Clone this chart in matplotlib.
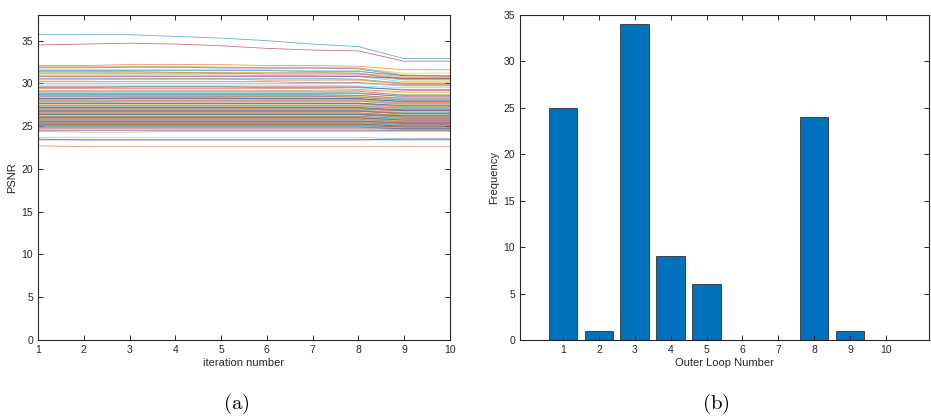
import matplotlib
matplotlib.use("Agg")
import matplotlib.pyplot as plt
import numpy as np

# PSNR per iteration, one row per test image (100 images)
iterations = [1, 2, 3, 4, 5, 6, 7, 8, 9, 10]
psnr = [
    [35.7, 35.7, 35.7, 35.5, 35.3, 35.0, 34.6, 34.3, 32.9, 32.9],
    [32.1, 32.1, 32.2, 32.2, 32.2, 32.1, 32.1, 32.0, 31.6, 31.6],
    [32.0, 32.0, 32.0, 32.0, 31.9, 31.9, 31.9, 31.8, 31.2, 31.2],
    [31.9, 31.9, 31.9, 31.9, 31.8, 31.8, 31.8, 31.7, 30.9, 30.9],
    [31.8, 31.8, 31.9, 31.9, 31.9, 31.8, 31.8, 31.8, 31.0, 30.9],
    [31.6, 31.6, 31.6, 31.6, 31.6, 31.6, 31.5, 31.5, 30.7, 30.7],
    [34.5, 34.6, 34.7, 34.6, 34.4, 34.1, 33.9, 33.8, 32.6, 32.6],
    [31.5, 31.5, 31.5, 31.5, 31.5, 31.5, 31.4, 31.4, 30.9, 30.8],
    [31.4, 31.4, 31.4, 31.3, 31.3, 31.3, 31.3, 31.2, 30.6, 30.6],
    [31.3, 31.3, 31.3, 31.3, 31.2, 31.2, 31.2, 31.2, 30.8, 30.8],
    [31.2, 31.2, 31.2, 31.2, 31.2, 31.1, 31.1, 31.1, 30.5, 30.5],
    [31.0, 31.0, 31.0, 31.0, 31.0, 30.9, 30.9, 30.9, 30.4, 30.4],
    [30.9, 30.9, 30.9, 30.9, 30.9, 30.9, 30.9, 30.8, 30.2, 30.2],
    [30.8, 30.8, 30.8, 30.8, 30.8, 30.8, 30.8, 30.8, 30.6, 30.6],
    [30.6, 30.6, 30.6, 30.6, 30.6, 30.6, 30.6, 30.5, 30.0, 30.0],
    [30.5, 30.5, 30.5, 30.5, 30.5, 30.4, 30.4, 30.4, 29.9, 29.9],
    [30.4, 30.4, 30.5, 30.5, 30.5, 30.4, 30.4, 30.4, 30.1, 30.1],
    [30.2, 30.2, 30.2, 30.2, 30.2, 30.2, 30.1, 30.1, 29.8, 29.8],
    [30.0, 30.0, 30.0, 30.0, 30.0, 30.0, 30.0, 30.0, 29.7, 29.7],
    [29.8, 29.8, 29.8, 29.8, 29.8, 29.8, 29.8, 29.7, 29.5, 29.5],
    [29.6, 29.6, 29.6, 29.6, 29.6, 29.6, 29.6, 29.6, 29.2, 29.2],
    [29.5, 29.5, 29.6, 29.6, 29.6, 29.5, 29.5, 29.5, 29.3, 29.3],
    [29.4, 29.4, 29.4, 29.4, 29.4, 29.4, 29.4, 29.3, 29.0, 29.0],
    [29.2, 29.2, 29.2, 29.2, 29.2, 29.2, 29.2, 29.2, 28.9, 28.9],
    [29.1, 29.1, 29.1, 29.1, 29.1, 29.1, 29.1, 29.1, 28.6, 28.6],
    [29.0, 29.0, 29.0, 29.0, 29.0, 29.0, 29.0, 28.9, 28.7, 28.7],
    [28.9, 28.9, 28.9, 28.9, 28.9, 28.9, 28.9, 28.9, 28.4, 28.4],
    [28.8, 28.8, 28.8, 28.8, 28.8, 28.8, 28.8, 28.8, 28.5, 28.5],
    [28.7, 28.7, 28.7, 28.7, 28.7, 28.7, 28.7, 28.6, 28.2, 28.2],
    [28.6, 28.6, 28.6, 28.6, 28.6, 28.6, 28.6, 28.6, 28.3, 28.3],
    [28.55, 28.55, 28.55, 28.55, 28.5, 28.5, 28.5, 28.5, 28.1, 28.1],
    [28.5, 28.5, 28.5, 28.5, 28.5, 28.5, 28.5, 28.4, 28.0, 28.0],
    [28.4, 28.4, 28.4, 28.4, 28.4, 28.4, 28.4, 28.4, 28.1, 28.1],
    [28.3, 28.3, 28.3, 28.3, 28.3, 28.3, 28.3, 28.2, 27.9, 27.9],
    [28.25, 28.25, 28.25, 28.25, 28.25, 28.25, 28.25, 28.25, 27.8, 27.8],
    [28.2, 28.2, 28.3, 28.3, 28.3, 28.2, 28.2, 28.2, 27.9, 27.9],
    [28.1, 28.1, 28.1, 28.1, 28.1, 28.1, 28.1, 28.1, 27.7, 27.7],
    [28.0, 28.0, 28.0, 28.0, 28.0, 28.0, 28.0, 28.0, 27.8, 27.8],
    [27.95, 27.95, 27.95, 27.95, 27.95, 27.95, 27.95, 27.95, 27.6, 27.6],
    [27.9, 27.9, 27.9, 27.9, 27.9, 27.9, 27.9, 27.9, 27.5, 27.5],
    [27.8, 27.8, 27.7, 27.7, 27.7, 27.7, 27.7, 27.7, 27.4, 27.4],
    [27.7, 27.7, 27.7, 27.7, 27.7, 27.7, 27.7, 27.7, 27.4, 27.4],
    [27.65, 27.65, 27.65, 27.65, 27.65, 27.65, 27.65, 27.65, 27.3, 27.3],
    [27.6, 27.6, 27.6, 27.6, 27.6, 27.6, 27.6, 27.6, 27.2, 27.2],
    [27.5, 27.5, 27.5, 27.5, 27.5, 27.5, 27.5, 27.5, 27.3, 27.3],
    [27.4, 27.4, 27.4, 27.4, 27.4, 27.4, 27.4, 27.4, 27.1, 27.1],
    [27.35, 27.35, 27.35, 27.35, 27.35, 27.35, 27.35, 27.35, 27.0, 27.0],
    [27.3, 27.3, 27.3, 27.3, 27.3, 27.3, 27.3, 27.3, 27.1, 27.1],
    [27.2, 27.2, 27.2, 27.2, 27.2, 27.2, 27.2, 27.2, 26.9, 26.9],
    [27.15, 27.15, 27.15, 27.15, 27.15, 27.15, 27.15, 27.15, 26.8, 26.8],
    [27.1, 27.1, 27.1, 27.1, 27.1, 27.1, 27.1, 27.1, 26.9, 26.9],
    [27.05, 27.05, 27.05, 27.05, 27.05, 27.05, 27.05, 27.05, 26.7, 26.7],
    [27.0, 27.0, 27.0, 27.0, 27.0, 27.0, 27.0, 27.0, 26.8, 26.8],
    [26.9, 26.9, 26.9, 26.9, 26.9, 26.9, 26.9, 26.9, 26.6, 26.6],
    [26.85, 26.85, 26.85, 26.85, 26.85, 26.85, 26.85, 26.85, 26.6, 26.6],
    [26.8, 26.8, 26.8, 26.8, 26.8, 26.8, 26.8, 26.8, 26.5, 26.5],
    [26.75, 26.75, 26.75, 26.75, 26.75, 26.75, 26.75, 26.75, 26.4, 26.4],
    [26.7, 26.7, 26.7, 26.7, 26.7, 26.7, 26.7, 26.7, 26.5, 26.5],
    [26.6, 26.6, 26.6, 26.6, 26.6, 26.6, 26.6, 26.6, 26.3, 26.3],
    [26.55, 26.55, 26.55, 26.55, 26.55, 26.55, 26.55, 26.55, 26.2, 26.2],
    [26.5, 26.5, 26.5, 26.5, 26.5, 26.5, 26.5, 26.5, 26.3, 26.3],
    [26.45, 26.45, 26.45, 26.45, 26.45, 26.45, 26.45, 26.45, 26.1, 26.1],
    [26.4, 26.4, 26.4, 26.4, 26.4, 26.4, 26.4, 26.4, 26.2, 26.2],
    [26.35, 26.35, 26.35, 26.35, 26.35, 26.35, 26.35, 26.35, 26.0, 26.0],
    [26.3, 26.3, 26.3, 26.3, 26.3, 26.3, 26.3, 26.3, 26.1, 26.1],
    [26.2, 26.2, 26.2, 26.2, 26.2, 26.2, 26.2, 26.2, 25.9, 25.9],
    [26.15, 26.15, 26.15, 26.15, 26.15, 26.15, 26.15, 26.15, 25.9, 25.9],
    [26.1, 26.1, 26.1, 26.1, 26.1, 26.1, 26.1, 26.1, 25.8, 25.8],
    [26.05, 26.05, 26.05, 26.05, 26.05, 26.05, 26.05, 26.05, 25.8, 25.8],
    [26.0, 26.0, 26.0, 26.0, 26.0, 26.0, 26.0, 26.0, 25.7, 25.7],
    [25.95, 25.95, 25.95, 25.95, 25.95, 25.95, 25.95, 25.95, 25.7, 25.7],
    [25.9, 25.9, 25.9, 25.9, 25.9, 25.9, 25.9, 25.9, 25.6, 25.6],
    [25.85, 25.85, 25.85, 25.85, 25.85, 25.85, 25.85, 25.85, 25.6, 25.6],
    [25.8, 25.8, 25.8, 25.8, 25.8, 25.8, 25.8, 25.8, 25.5, 25.5],
    [25.7, 25.7, 25.7, 25.7, 25.7, 25.7, 25.7, 25.7, 25.5, 25.5],
    [25.65, 25.65, 25.65, 25.65, 25.65, 25.65, 25.65, 25.65, 25.4, 25.4],
    [25.6, 25.6, 25.6, 25.6, 25.6, 25.6, 25.6, 25.6, 25.4, 25.4],
    [25.55, 25.55, 25.55, 25.55, 25.55, 25.55, 25.55, 25.55, 25.3, 25.3],
    [25.5, 25.5, 25.5, 25.5, 25.5, 25.5, 25.5, 25.5, 25.3, 25.3],
    [25.45, 25.45, 25.45, 25.45, 25.45, 25.45, 25.45, 25.45, 25.2, 25.2],
    [25.4, 25.4, 25.4, 25.4, 25.4, 25.4, 25.4, 25.4, 25.2, 25.2],
    [25.35, 25.35, 25.35, 25.35, 25.35, 25.35, 25.35, 25.35, 25.1, 25.1],
    [25.3, 25.3, 25.3, 25.3, 25.3, 25.3, 25.3, 25.3, 25.1, 25.1],
    [25.25, 25.25, 25.25, 25.25, 25.25, 25.25, 25.25, 25.25, 25.0, 25.0],
    [25.2, 25.2, 25.2, 25.2, 25.2, 25.2, 25.2, 25.2, 25.0, 25.0],
    [25.15, 25.15, 25.15, 25.15, 25.15, 25.15, 25.15, 25.15, 24.9, 24.9],
    [25.1, 25.1, 25.1, 25.1, 25.1, 25.1, 25.1, 25.1, 24.9, 24.9],
    [25.05, 25.05, 25.05, 25.05, 25.05, 25.05, 25.05, 25.05, 24.9, 24.9],
    [25.0, 25.0, 25.0, 25.0, 25.0, 25.0, 25.0, 25.0, 24.8, 24.8],
    [24.95, 24.95, 24.95, 24.95, 24.95, 24.95, 24.95, 24.95, 24.8, 24.8],
    [24.9, 24.9, 24.9, 24.9, 24.9, 24.9, 24.9, 24.9, 24.7, 24.7],
    [24.8, 24.8, 24.8, 24.8, 24.8, 24.8, 24.8, 24.8, 24.7, 24.7],
    [24.7, 24.7, 24.7, 24.7, 24.7, 24.7, 24.7, 24.7, 24.6, 24.6],
    [24.6, 24.6, 24.6, 24.6, 24.6, 24.6, 24.6, 24.6, 24.5, 24.5],
    [24.5, 24.5, 24.5, 24.5, 24.5, 24.5, 24.5, 24.5, 24.5, 24.5],
    [24.4, 24.3, 24.3, 24.4, 24.4, 24.4, 24.4, 24.4, 24.4, 24.4],
    [23.7, 23.7, 23.7, 23.7, 23.7, 23.7, 23.7, 23.7, 23.5, 23.5],
    [23.4, 23.4, 23.4, 23.4, 23.4, 23.4, 23.4, 23.4, 23.5, 23.5],
    [23.5, 23.4, 23.4, 23.4, 23.4, 23.4, 23.4, 23.4, 23.4, 23.4],
    [22.7, 22.6, 22.6, 22.6, 22.6, 22.6, 22.6, 22.6, 22.6, 22.6],
]

# histogram of the chosen outer loop number
loops = [1, 2, 3, 4, 5, 6, 7, 8, 9, 10]
freq = [25, 1, 34, 9, 6, 0, 0, 24, 1, 0]

matlab_colors = ["#0072BD", "#D95319", "#EDB120", "#7E2F8E",
                 "#77AC30", "#4DBEEE", "#A2142F"]
axcol = "#262626"

plt.rcParams['font.family'] = ['Liberation Sans', 'DejaVu Sans']
plt.rcParams['mathtext.fontset'] = 'cm'

fig = plt.figure(figsize=(9.31, 4.18), dpi=100)
ax1 = fig.add_axes([0.0408, 0.1866, 0.4425, 0.7775])
ax2 = fig.add_axes([0.5585, 0.1866, 0.4393, 0.7775])

for i, row in enumerate(psnr):
    ax1.plot(iterations, row, color=matlab_colors[i % 7], lw=0.6, alpha=0.6)

ax1.set_xlim(1, 10)
ax1.set_ylim(0, 38)
ax1.set_xticks(iterations)
ax1.set_yticks(np.arange(0, 36, 5))
ax1.set_xlabel("iteration number", fontsize=8, color=axcol, labelpad=2)
ax1.set_ylabel("PSNR", fontsize=8, color=axcol, labelpad=3)

ax2.bar(loops, freq, width=0.8, color="#0072BD", edgecolor="#333333", lw=0.6)
ax2.set_xlim(-0.2, 11.2)
ax2.set_ylim(0, 35)
ax2.set_xticks(loops)
ax2.set_yticks(np.arange(0, 36, 5))
ax2.set_xlabel("Outer Loop Number", fontsize=8, color=axcol, labelpad=2)
ax2.set_ylabel("Frequency", fontsize=8, color=axcol, labelpad=3)

for ax in (ax1, ax2):
    ax.tick_params(direction="in", length=3.5, width=0.7, labelsize=7.5,
                   colors=axcol, top=True, right=True, pad=3.5)
    for s in ax.spines.values():
        s.set_linewidth(0.8)
        s.set_color(axcol)

fig.text(236 / 931, 1 - 404 / 418, r"$\mathrm{(a)}$", fontsize=15,
         ha="center", va="center")
fig.text(716 / 931, 1 - 404 / 418, r"$\mathrm{(b)}$", fontsize=15,
         ha="center", va="center")

fig.savefig("out.png", dpi=100)
